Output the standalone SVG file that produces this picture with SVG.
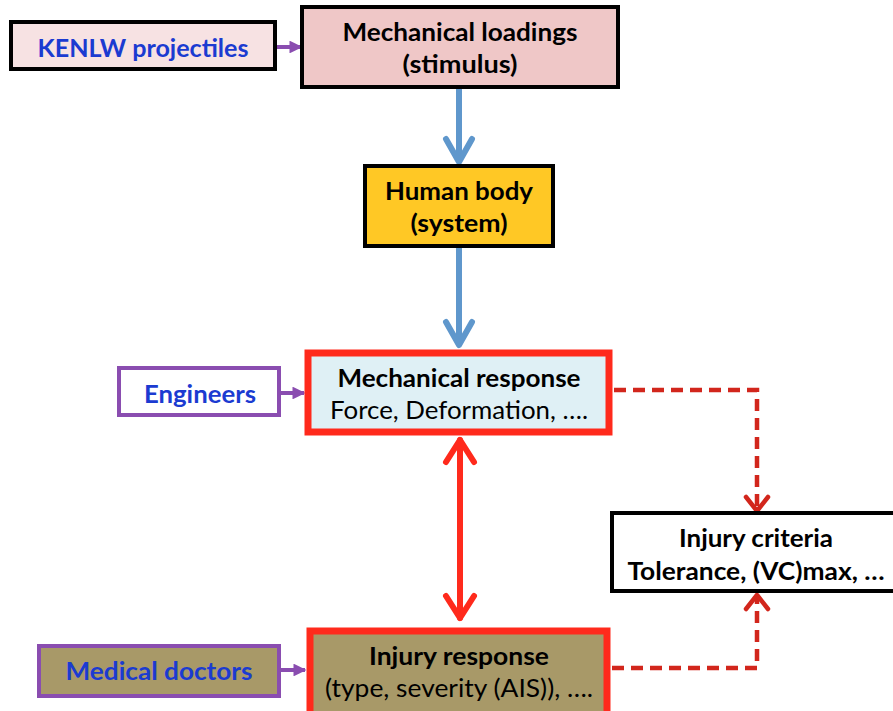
<svg xmlns="http://www.w3.org/2000/svg" width="893" height="711" viewBox="0 0 893 711">
  <defs>
    <style>
      .t { font-family: Lato, "Open Sans", "Liberation Sans", sans-serif; font-size: 25px; text-anchor: middle; fill: #000; }
      .b { font-weight: bold; }
      .blue { fill: #1b3bd1; font-weight: bold; }
      .box { stroke: #000; stroke-width: 4; }
      .who { stroke: #8a4db0; stroke-width: 4; }
      .hot { stroke: #ff2a1c; stroke-width: 7; }
      .flow { fill: none; stroke: #5f97cc; stroke-width: 6; }
      .head-blue { fill: none; stroke: #5f97cc; stroke-width: 6; stroke-linecap: round; stroke-linejoin: round; }
      .both { fill: none; stroke: #ff2a1c; stroke-width: 6; stroke-linecap: round; stroke-linejoin: round; }
      .dash { fill: none; stroke: #d2261c; stroke-width: 4.5; stroke-dasharray: 12 7; }
      .head-dash { fill: none; stroke: #d2261c; stroke-width: 4.5; stroke-linecap: round; stroke-linejoin: round; }
      .link { fill: none; stroke: #8a4db0; stroke-width: 4; }
    </style>
    <marker id="purpleHead" viewBox="0 0 10 10" refX="9" refY="5" markerWidth="3.2" markerHeight="3.2" orient="auto" markerUnits="strokeWidth">
      <path d="M0,0 L10,5 L0,10 z" fill="#8a4db0"/>
    </marker>
  </defs>

  <!-- connectors -->
  <g id="connectors">
    <!-- source links -->
    <line class="link" x1="276" y1="47" x2="301" y2="47" marker-end="url(#purpleHead)"/>
    <line class="link" x1="280" y1="393" x2="304" y2="393" marker-end="url(#purpleHead)"/>
    <line class="link" x1="280" y1="670" x2="305" y2="670" marker-end="url(#purpleHead)"/>
    <!-- main flow -->
    <line class="flow" x1="459" y1="84" x2="459" y2="162"/>
    <polyline class="head-blue" points="446,139 459,162 472,139"/>
    <line class="flow" x1="459" y1="248" x2="459" y2="345"/>
    <polyline class="head-blue" points="446,322 459,345 472,322"/>
    <!-- two-way link -->
    <line class="both" x1="460" y1="440" x2="460" y2="618"/>
    <polyline class="both" points="446,462 460,440 474,462"/>
    <polyline class="both" points="446,596 460,618 474,596"/>
    <!-- dashed links to criteria -->
    <polyline class="dash" points="614,390 757,390 757,509"/>
    <polyline class="head-dash" points="746,497 757,511 768,497"/>
    <polyline class="dash" points="612,668 757,668 757,597"/>
    <polyline class="head-dash" points="746,609 757,595 768,609"/>
  </g>

  <g id="kenlw">
    <rect class="box" x="11" y="22" width="264" height="47" fill="#f7e2e3"/>
    <text class="t blue" x="143" y="57" textLength="211" lengthAdjust="spacingAndGlyphs">KENLW projectiles</text>
  </g>

  <g id="loadings">
    <rect class="box" x="302" y="7" width="316" height="80" fill="#efc7c7"/>
    <text class="t b" x="460" y="41" textLength="235" lengthAdjust="spacingAndGlyphs">Mechanical loadings</text>
    <text class="t b" x="460" y="73" textLength="115" lengthAdjust="spacingAndGlyphs">(stimulus)</text>
  </g>

  <g id="body">
    <rect class="box" x="365" y="166" width="188" height="80" fill="#ffc825"/>
    <text class="t b" x="459" y="200" textLength="148" lengthAdjust="spacingAndGlyphs">Human body</text>
    <text class="t b" x="459" y="232" textLength="97" lengthAdjust="spacingAndGlyphs">(system)</text>
  </g>

  <g id="engineers">
    <rect class="who" x="119" y="368" width="160" height="47" fill="#ffffff"/>
    <text class="t blue" x="200" y="403" textLength="112" lengthAdjust="spacingAndGlyphs">Engineers</text>
  </g>

  <g id="mech-response">
    <rect class="hot" x="308" y="353" width="301" height="79" fill="#dff0f5"/>
    <text class="t b" x="459" y="387" textLength="243" lengthAdjust="spacingAndGlyphs">Mechanical response</text>
    <text class="t" x="459" y="419" textLength="258" lengthAdjust="spacingAndGlyphs">Force, Deformation, ….</text>
  </g>

  <g id="criteria">
    <rect class="box" x="612" y="513" width="290" height="78" fill="#ffffff"/>
    <text class="t b" x="756" y="547" textLength="154" lengthAdjust="spacingAndGlyphs">Injury criteria</text>
    <text class="t b" x="756" y="580" textLength="257" lengthAdjust="spacingAndGlyphs">Tolerance, (VC)max, …</text>
  </g>

  <g id="doctors">
    <rect class="who" x="39" y="646" width="240" height="50" fill="#a89968"/>
    <text class="t blue" x="159" y="680" textLength="187" lengthAdjust="spacingAndGlyphs">Medical doctors</text>
  </g>

  <g id="injury-response">
    <rect class="hot" x="310" y="631" width="297" height="84" fill="#a89968"/>
    <text class="t b" x="459" y="665" textLength="180" lengthAdjust="spacingAndGlyphs">Injury response</text>
    <text class="t" x="459" y="697" textLength="268" lengthAdjust="spacingAndGlyphs">(type, severity (AIS)), ….</text>
  </g>
</svg>
